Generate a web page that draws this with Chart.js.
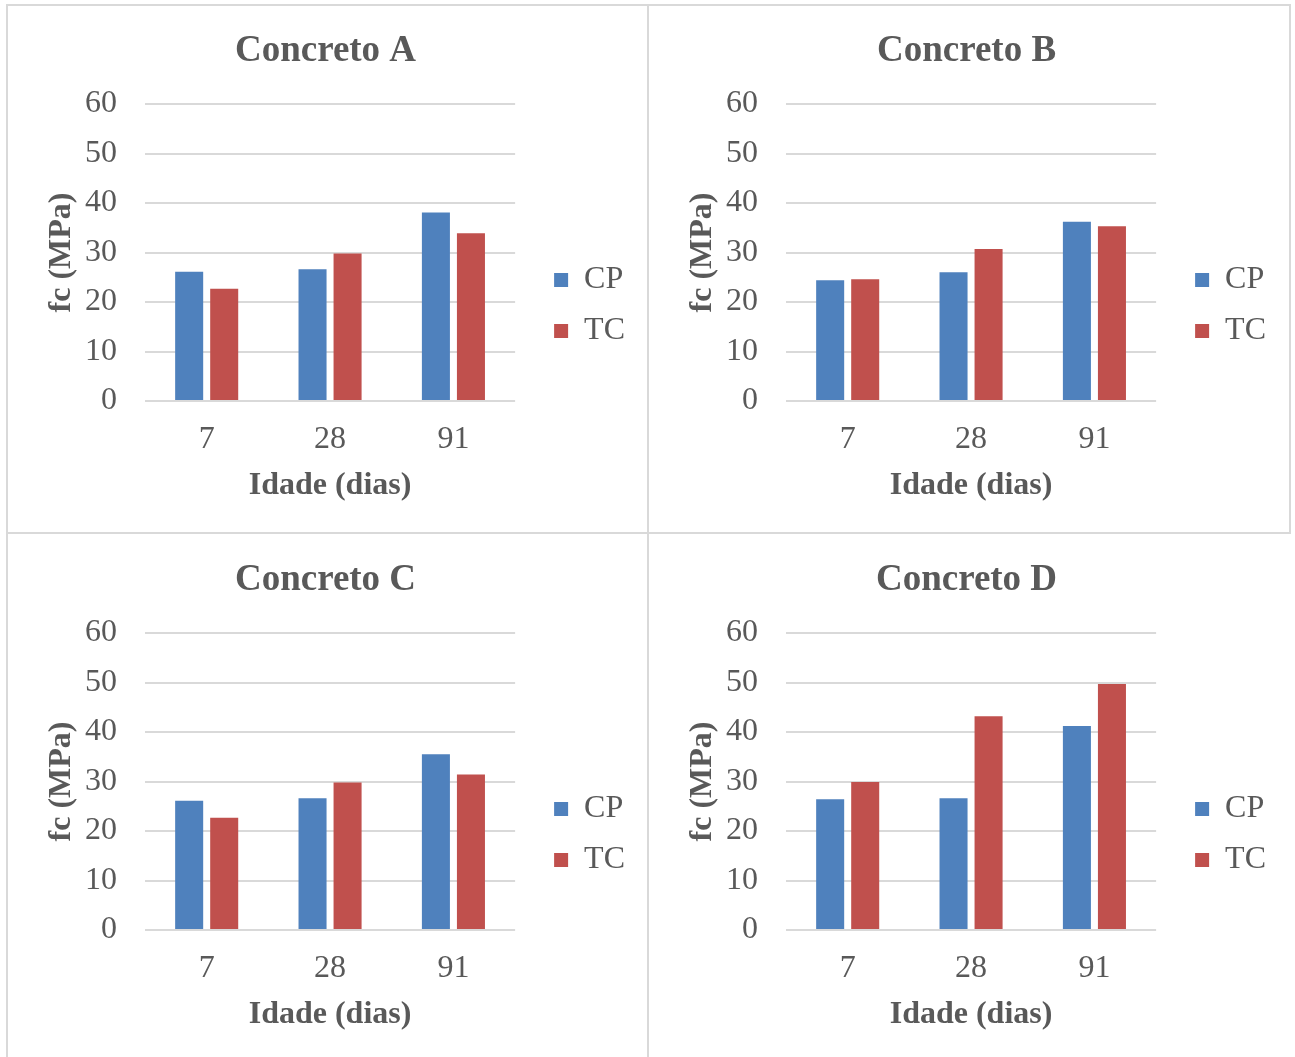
<!DOCTYPE html>
<html>
<head>
<meta charset="utf-8">
<script src="https://cdn.jsdelivr.net/npm/chart.js@4/dist/chart.umd.min.js"></script>
<style>
  html, body { margin: 0; padding: 0; background: #fff; overflow: hidden; }
  #page { position: relative; width: 1295px; height: 1057px; }
  .line { position: absolute; background: #d9d9d9; }
  canvas { position: absolute; }
</style>
</head>
<body>
<div id="page">
  <div class="line" style="left:6px;top:4px;width:2px;height:1053px"></div>
  <div class="line" style="left:647px;top:4px;width:2px;height:1053px"></div>
  <div class="line" style="left:1289px;top:4px;width:2px;height:530px"></div>
  <div class="line" style="left:6px;top:4px;width:1285px;height:2px"></div>
  <div class="line" style="left:6px;top:532px;width:1285px;height:2px"></div>
  <canvas id="chartA" width="640" height="526" style="left:8px;top:6px"></canvas>
  <canvas id="chartB" width="640" height="526" style="left:649px;top:6px"></canvas>
  <canvas id="chartC" width="640" height="526" style="left:8px;top:535px"></canvas>
  <canvas id="chartD" width="640" height="526" style="left:649px;top:535px"></canvas>
</div>
<script>
    // ── Dados ──────────────────────────────────────────
    const ages = ['7', '28', '91'];
    const seriesNames = ['CP', 'TC'];
    const yMin = 0, yMax = 60, yStep = 10;

    const cpA = [26.1, 26.6, 38.1];
    const tcA = [22.7, 29.8, 33.9];
    const cpB = [24.4, 26.0, 36.2];
    const tcB = [24.6, 30.7, 35.3];
    const cpC = [26.1, 26.6, 35.5];
    const tcC = [22.7, 29.8, 31.4];
    const cpD = [26.4, 26.6, 41.2];
    const tcD = [29.9, 43.2, 49.7];

    // ── Estilo ─────────────────────────────────────────
    const FONT = "'Liberation Serif','Times New Roman',serif";
    const TEXT = '#595959';
    const GRID = '#d9d9d9';
    const BLUE = '#4f81bd';
    const RED = '#c0504d';

    function makeChart(id, title, cp, tc) {
        new Chart(document.getElementById(id), {
            type: 'bar',
            data: {
                labels: ages,
                datasets: [
                    { label: seriesNames[0], data: cp, backgroundColor: BLUE },
                    { label: seriesNames[1], data: tc, backgroundColor: RED }
                ]
            },
            options: {
                responsive: false,
                animation: false,
                categoryPercentage: 0.568,
                barPercentage: 0.8,
                layout: { padding: { left: 8, right: 13, top: 0, bottom: 26.8 } },
                plugins: {
                    tooltip: { enabled: false },
                    title: {
                        display: true,
                        text: title,
                        color: TEXT,
                        font: { family: FONT, size: 37, weight: 'bold' },
                        padding: { top: 22.8, bottom: 30.8 }
                    },
                    legend: {
                        position: 'right',
                        align: 'center',
                        maxWidth: 100,
                        // empty title only pushes the items down
                        title: { display: true, text: '', padding: { top: 85.4, bottom: 0 } },
                        labels: {
                            color: TEXT,
                            font: { family: FONT, size: 32 },
                            boxWidth: 14,
                            boxHeight: 14,
                            padding: 19
                        }
                    }
                },
                scales: {
                    x: {
                        grid: { display: false, drawTicks: false },
                        border: { display: false },
                        ticks: { color: TEXT, font: { family: FONT, size: 32 }, padding: 19.8 },
                        title: {
                            display: true,
                            text: 'Idade (dias)',
                            color: TEXT,
                            font: { family: FONT, size: 32, weight: 'bold' },
                            padding: { top: -12.2, bottom: 0 }
                        }
                    },
                    y: {
                        min: yMin,
                        max: yMax,
                        afterFit: s => { s.width = 129; },
                        grid: { color: GRID, lineWidth: 2, drawTicks: false },
                        border: { display: false },
                        ticks: { stepSize: yStep, color: TEXT, font: { family: FONT, size: 32 }, padding: 28 },
                        title: {
                            display: true,
                            text: 'fc (MPa)',
                            color: TEXT,
                            font: { family: FONT, size: 32, weight: 'bold' },
                            padding: { top: 26.8, bottom: 0 }
                        }
                    },
                    // empty right axis: gap between plot and legend
                    gap: {
                        type: 'linear',
                        axis: 'y',
                        position: 'right',
                        afterFit: s => { s.width = 20; },
                        grid: { display: false },
                        border: { display: false },
                        ticks: { display: false }
                    }
                }
            }
        });
    }

    makeChart('chartA', 'Concreto A', cpA, tcA);
    makeChart('chartB', 'Concreto B', cpB, tcB);
    makeChart('chartC', 'Concreto C', cpC, tcC);
    makeChart('chartD', 'Concreto D', cpD, tcD);
</script>
</body>
</html>
